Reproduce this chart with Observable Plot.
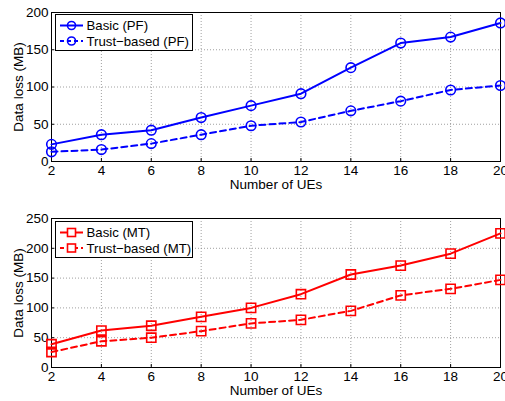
<!DOCTYPE html>
<html><head><meta charset="utf-8">
<script src="https://cdn.jsdelivr.net/npm/d3@7"></script>
<script src="https://cdn.jsdelivr.net/npm/@observablehq/plot@0.6"></script>
<style>
body{margin:0;background:#fff;font-family:"Liberation Sans",Arial,sans-serif;}
#wrap{position:relative;width:505px;height:401px;overflow:hidden;}
svg text{font-family:"Liberation Sans",Arial,sans-serif;}
</style></head>
<body><div id="wrap"></div>
<script>
const ues = [2,4,6,8,10,12,14,16,18,20];
const pfBasic = [23,36,42,59,75,91,126,159,167,186];
const pfTrust = [13,16,24,36,48,53,68,81,96,102];
const mtBasic = [39,62,70,85,100,123,156,171,191,225];
const mtTrust = [26,44,50,61,74,80,95,121,132,147];
const pfTicks = [0,50,100,150,200];
const mtTicks = [0,50,100,150,200,250];
const pfNames = ["Basic (PF)","Trust\u2212based (PF)"];
const mtNames = ["Basic (MT)","Trust\u2212based (MT)"];

function panel(basic, trust, yTicks, color, symbol, opts){
  const b = ues.map((u,i)=>({x:u,y:basic[i]}));
  const t = ues.map((u,i)=>({x:u,y:trust[i]}));
  const rows = b.concat(t);
  return Plot.plot({
    width:505, height:opts.height,
    marginLeft:51, marginRight:5, marginTop:opts.mt, marginBottom:opts.mb,
    style:{fontSize:"13.5px", fontFamily:"Liberation Sans, Arial, sans-serif", color:"#000", background:"transparent", overflow:"visible"},
    x:{domain:[2,20]},
    y:{domain:[0,yTicks[yTicks.length-1]]},
    marks:[
      Plot.gridX(ues,{stroke:"#888", strokeOpacity:1, strokeDasharray:"1,2", strokeWidth:0.8}),
      Plot.gridY(yTicks,{stroke:"#888", strokeOpacity:1, strokeDasharray:"1,2", strokeWidth:0.8}),
      Plot.axisX(ues,{tickSize:0, tickPadding:4, label:"Number of UEs", labelAnchor:"center", labelOffset:opts.xlo, labelArrow:"none", fontSize:13.5}),
      Plot.axisY(yTicks,{tickSize:0, tickPadding:3, label:"Data loss (MB)", labelAnchor:"center", labelOffset:opts.ylo, labelArrow:"none", fontSize:13.5}),
      Plot.axisX(ues,{tickSize:-3, text:null, label:null, stroke:"#000"}),
      Plot.axisY(yTicks,{tickSize:-3, text:null, label:null, stroke:"#000"}),
      Plot.frame({stroke:"#000", strokeWidth:1}),
      Plot.line(b,{x:"x",y:"y",stroke:color,strokeWidth:2}),
      Plot.line(t,{x:"x",y:"y",stroke:color,strokeWidth:2,strokeDasharray:"6,4"}),
      Plot.dot(rows,{x:"x",y:"y",stroke:color,strokeWidth:1.6,fill:"none",symbol:symbol,r:opts.r})
    ]
  });
}

function legend(names, color, shape, left, top){
  const ns="http://www.w3.org/2000/svg";
  const w=138, h=37;
  let s=`<svg xmlns="${ns}" width="${w}" height="${h}" style="position:absolute;left:${left}px;top:${top}px">`;
  s+=`<rect x="0.5" y="0.5" width="${w-1}" height="${h-1}" fill="#fff" stroke="#000" stroke-width="1"/>`;
  names.forEach((n,i)=>{
    const y=11.5+i*15.5;
    s+=`<line x1="5" x2="28" y1="${y}" y2="${y}" stroke="${color}" stroke-width="2" ${i?'stroke-dasharray="4,3"':''}/>`;
    if(shape==="circle") s+=`<circle cx="16.5" cy="${y}" r="4" fill="none" stroke="${color}" stroke-width="1.6"/>`;
    else s+=`<rect x="12.5" y="${y-4}" width="8" height="8" fill="#fff" stroke="${color}" stroke-width="1.6"/>`;
    s+=`<text x="31.5" y="${y+4.7}" font-size="13.2" fill="#000">${n}</text>`;
  });
  s+="</svg>";
  return s;
}

const wrap=document.getElementById("wrap");
const p1=panel(pfBasic,pfTrust,pfTicks,"#0000ff","circle",{height:200,mt:12,mb:39,xlo:27,ylo:38,r:4.8});
p1.style.position="absolute";p1.style.left="0";p1.style.top="0";
const p2=panel(mtBasic,mtTrust,mtTicks,"#ff0000","square",{height:201,mt:18,mb:34,xlo:27,ylo:38,r:5.2});
p2.style.position="absolute";p2.style.left="0";p2.style.top="200px";
wrap.appendChild(p1);wrap.appendChild(p2);
wrap.insertAdjacentHTML("beforeend",legend(pfNames,"#0000ff","circle",55,14));
wrap.insertAdjacentHTML("beforeend",legend(mtNames,"#ff0000","square",55,221));
</script></body></html>
